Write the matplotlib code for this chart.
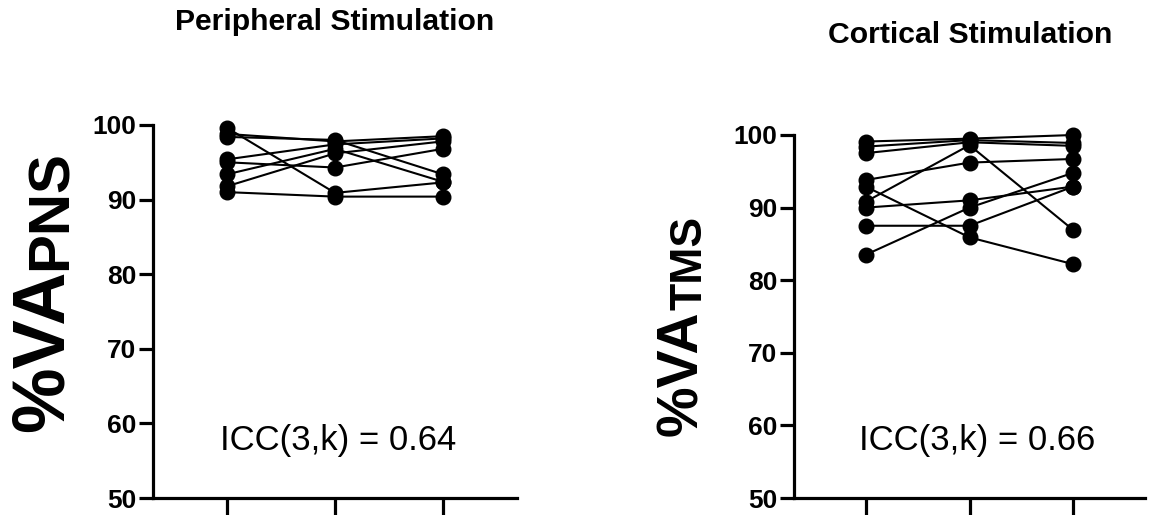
import matplotlib
matplotlib.use("Agg")
import matplotlib.pyplot as plt

plt.rcParams['font.family'] = ['Liberation Sans', 'DejaVu Sans']

# Voluntary activation per subject across three sessions
sessions = [1, 2, 3]
pns_s1 = [99.6, 98.8, 98.4, 95.4, 95.0, 93.4, 91.8, 91.0]
pns_s2 = [90.9, 97.8, 98.0, 97.4, 94.3, 96.8, 96.2, 90.4]
pns_s3 = [92.3, 98.5, 93.4, 98.2, 96.8, 92.4, 97.8, 90.4]

tms_s1 = [99.1, 98.4, 97.5, 93.8, 92.9, 90.8, 90.0, 87.5, 83.5]
tms_s2 = [99.5, 99.3, 99.0, 96.2, 85.9, 98.6, 91.0, 87.5, 90.0]
tms_s3 = [100.0, 98.9, 98.5, 96.7, 82.2, 86.9, 92.9, 92.9, 94.8]

yticks = [50, 60, 70, 80, 90, 100]
titles = ["Peripheral Stimulation", "Cortical Stimulation"]
icc_labels = ["ICC(3,k) = 0.64", "ICC(3,k) = 0.66"]
ylabel_main = "%VA"
ylabel_subs = ["PNS", "TMS"]

W, H = 1149, 515
fig = plt.figure(figsize=(W / 100, H / 100), dpi=100)


def px(x, y):
    return x / W, 1 - y / H


ax1 = fig.add_axes([153 / W, 17 / H, 364 / W, 373 / H])
ax2 = fig.add_axes([794 / W, 17 / H, 351 / W, 363 / H])

panels = [
    (ax1, [pns_s1, pns_s2, pns_s3]),
    (ax2, [tms_s1, tms_s2, tms_s3]),
]

for ax, cols in panels:
    for subj in zip(*cols):
        ax.plot(sessions, subj, color='black', lw=1.5, marker='o',
                markersize=10.5, clip_on=False, solid_joinstyle='round')
    ax.set_xlim(0.31, 3.69)
    ax.set_ylim(50, 100)
    ax.set_yticks(yticks)
    ax.set_xticks(sessions)
    ax.set_xticklabels([])
    for s in ['top', 'right']:
        ax.spines[s].set_visible(False)
    for s in ['left', 'bottom']:
        ax.spines[s].set_linewidth(2.3)
    ax.tick_params(axis='y', length=10, width=2.3, pad=2, labelsize=19)
    ax.tick_params(axis='x', length=16, width=2.3)
    for lab in ax.get_yticklabels():
        lab.set_fontweight('bold')

ax1.text(2.03, 57.7, icc_labels[0], ha='center', va='center', fontsize=25)
ax2.text(2.07, 57.9, icc_labels[1], ha='center', va='center', fontsize=25)

fig.text(*px(335, 22), titles[0], ha='center', va='center',
         fontsize=21.7, fontweight='bold')
fig.text(*px(970, 35), titles[1], ha='center', va='center',
         fontsize=21.7, fontweight='bold')

# rotated y labels with a subscript placed right after the main text
fig.canvas.draw()
renderer = fig.canvas.get_renderer()
label_specs = [((63, 432), 53, 42), ((697, 436), 41, 32)]
for ((bx, by), main_fs, sub_fs), sub in zip(label_specs, ylabel_subs):
    t = fig.text(*px(bx, by), ylabel_main, rotation=90, rotation_mode='anchor',
                 ha='left', va='baseline', fontsize=main_fs, fontweight='bold')
    bb = t.get_window_extent(renderer)
    top_px = H - bb.y1
    fig.text(*px(bx + 4, top_px), sub, rotation=90, rotation_mode='anchor',
             ha='left', va='baseline', fontsize=sub_fs, fontweight='bold')

fig.savefig("out.png", dpi=100)
